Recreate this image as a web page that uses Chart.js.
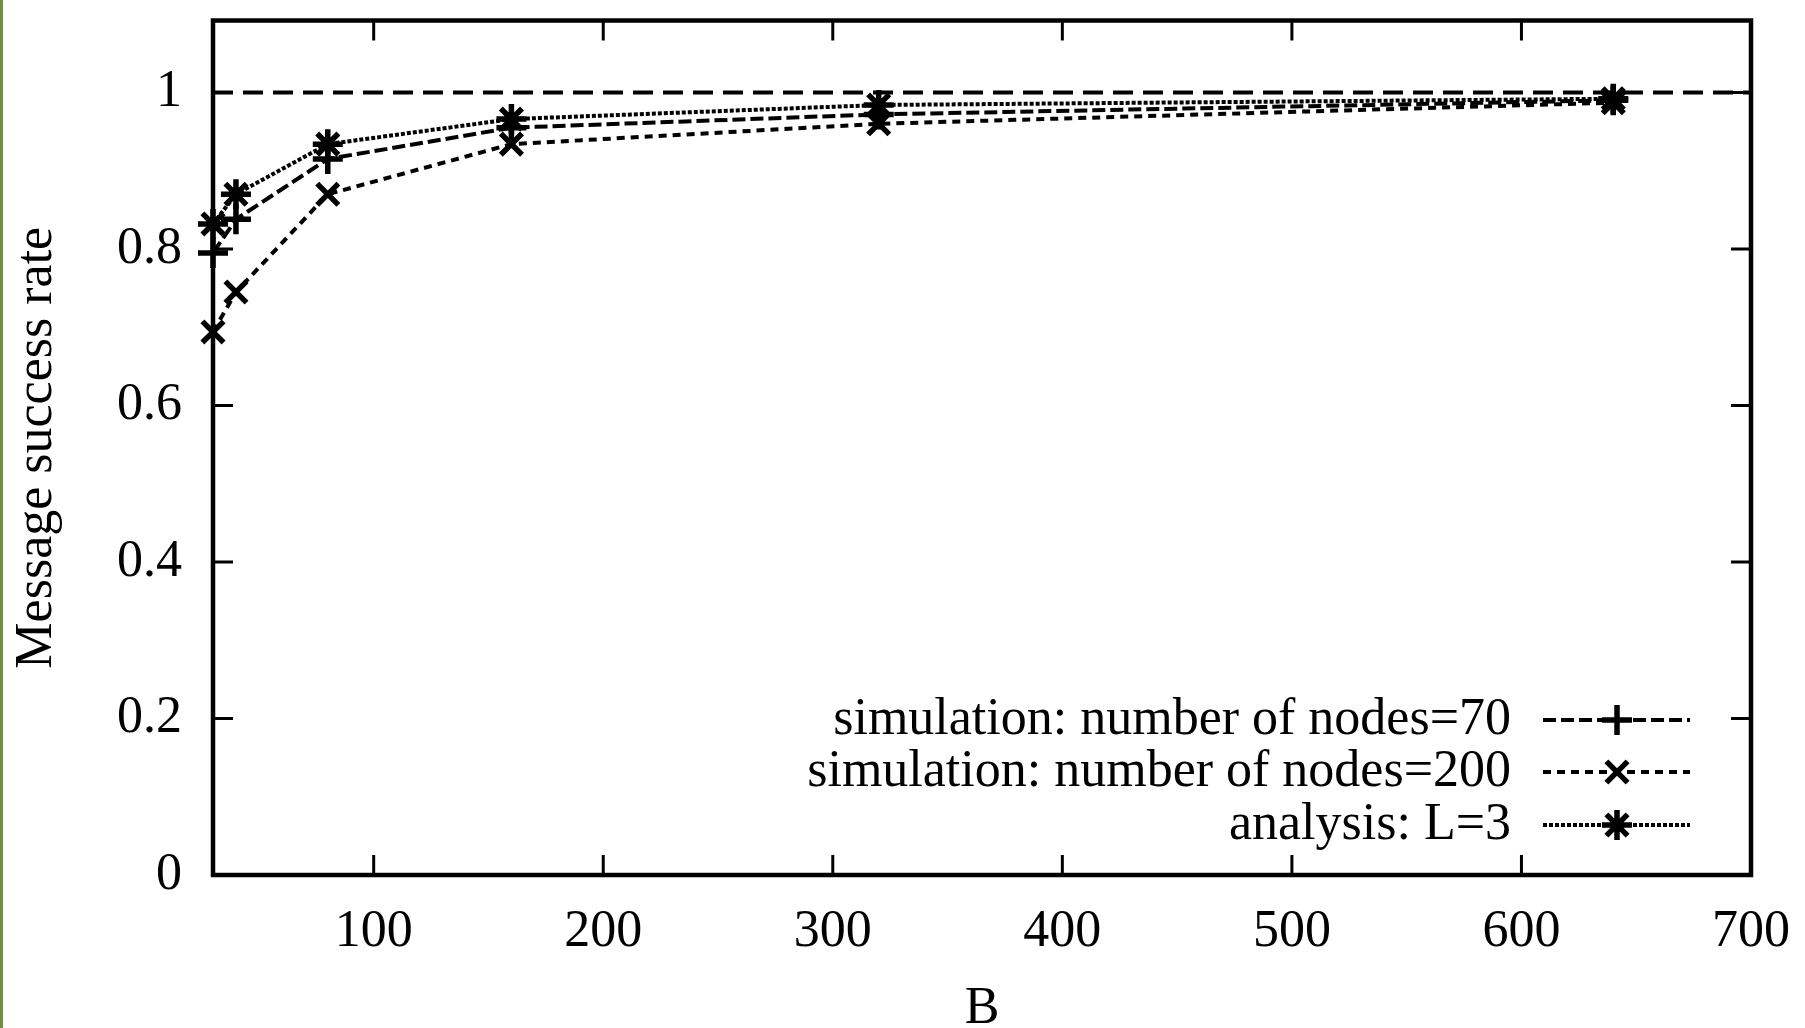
<!DOCTYPE html>
<html>
<head>
<meta charset="utf-8">
<script src="https://cdn.jsdelivr.net/npm/chart.js@4/dist/chart.umd.min.js"></script>
<style>
  html, body { margin: 0; padding: 0; background: #fff; overflow: hidden; }
  #wrap { position: relative; width: 1805px; height: 1028px; }
  #edge { position: absolute; left: 0; top: 0; width: 3px; height: 1028px; background: #6e8e44; }
  canvas { display: block; }
</style>
</head>
<body>
<div id="wrap">
  <canvas id="c" width="1805" height="1028"></canvas>
  <div id="edge"></div>
</div>
<script>
// ---- data ----
const bValues    = [30, 40, 80, 160, 320, 640];
const nodes70    = [0.795, 0.838, 0.915, 0.955, 0.972, 0.990];
const nodes200   = [0.694, 0.745, 0.870, 0.934, 0.960, 0.987];
const analysisL3 = [0.832, 0.870, 0.934, 0.966, 0.984, 0.992];
const referenceX = [30, 700];
const referenceY = [1, 1];
const xTicks = [100, 200, 300, 400, 500, 600, 700];
const yTicks = [0, 0.2, 0.4, 0.6, 0.8, 1];
const seriesLabels = [
  'simulation: number of nodes=70',
  'simulation: number of nodes=200',
  'analysis: L=3'
];

const FONT = 'Liberation Serif';
const toPts = (xs, ys) => xs.map((x, i) => ({ x: x, y: ys[i] }));

const seriesStyle = (label, data, dash, marker) => ({
  label: label,
  data: data,
  borderColor: '#000',
  backgroundColor: '#000',
  borderWidth: 4,
  borderDash: dash,
  pointStyle: marker,
  pointRadius: 15,
  pointHoverRadius: 15,
  pointBorderWidth: 5.5,
  pointBorderColor: '#000',
  pointBackgroundColor: '#000',
  fill: false,
  tension: 0,
  clip: false,
  isSeries: true
});

const datasets = [
  {
    label: 'y=1',
    data: toPts(referenceX, referenceY),
    borderColor: '#000',
    borderWidth: 4,
    borderDash: [20, 10],
    pointRadius: 0,
    fill: false,
    clip: false,
    isSeries: false
  },
  seriesStyle(seriesLabels[0], toPts(bValues, nodes70), [13, 5], 'cross'),
  seriesStyle(seriesLabels[1], toPts(bValues, nodes200), [8, 6], 'crossRot'),
  seriesStyle(seriesLabels[2], toPts(bValues, analysisL3), [4, 2], 'star')
];

const framePlugin = {
  id: 'frame',
  afterDatasetsDraw(chart) {
    const { ctx, chartArea, scales } = chart;
    const { left, right, top, bottom } = chartArea;
    ctx.save();
    ctx.strokeStyle = '#000';
    ctx.lineWidth = 3;
    ctx.setLineDash([]);
    const tl = 20;
    xTicks.forEach(v => {
      const px = scales.x.getPixelForValue(v);
      ctx.beginPath();
      ctx.moveTo(px, bottom); ctx.lineTo(px, bottom - tl);
      ctx.moveTo(px, top); ctx.lineTo(px, top + tl);
      ctx.stroke();
    });
    yTicks.forEach(v => {
      const py = scales.y.getPixelForValue(v);
      ctx.beginPath();
      ctx.moveTo(left, py); ctx.lineTo(left + tl, py);
      ctx.moveTo(right, py); ctx.lineTo(right - tl, py);
      ctx.stroke();
    });
    ctx.lineWidth = 4.5;
    ctx.strokeRect(left, top, right - left, bottom - top);

    // legend (inside plot, bottom right)
    const textRight = 1511, sampleL = 1543, sampleR = 1690, markX = 1617;
    const rows = [720, 772, 825];
    ctx.font = '52px "' + FONT + '"';
    ctx.textAlign = 'right';
    ctx.textBaseline = 'middle';
    ctx.fillStyle = '#000';
    let r = 0;
    chart.data.datasets.forEach(ds => {
      if (!ds.isSeries) return;
      const y = rows[r++];
      ctx.fillText(ds.label, textRight, y);
      ctx.save();
      ctx.lineWidth = ds.borderWidth;
      ctx.setLineDash(ds.borderDash);
      ctx.beginPath();
      ctx.moveTo(sampleL, y); ctx.lineTo(sampleR, y);
      ctx.stroke();
      ctx.restore();
      ctx.save();
      ctx.lineWidth = ds.pointBorderWidth;
      ctx.strokeStyle = '#000';
      Chart.helpers.drawPoint(ctx, { pointStyle: ds.pointStyle, radius: ds.pointRadius, borderWidth: ds.pointBorderWidth, rotation: 0 }, markX, y);
      ctx.restore();
    });
    ctx.restore();
  }
};

new Chart(document.getElementById('c'), {
  type: 'line',
  data: { datasets: datasets },
  options: {
    responsive: false,
    animation: false,
    devicePixelRatio: 1,
    layout: { padding: { top: 6, right: 54, bottom: 0, left: 0 } },
    plugins: { legend: { display: false }, tooltip: { enabled: false } },
    scales: {
      x: {
        type: 'linear',
        min: 30,
        max: 700,
        grid: { display: false, drawTicks: false },
        border: { display: false },
        afterBuildTicks: s => { s.ticks = xTicks.map(v => ({ value: v })); },
        afterFit: s => { s.height = 153; s.paddingLeft = 0; s.paddingRight = 0; },
        ticks: { color: '#000', padding: 26, font: { family: FONT, size: 52 } },
        title: {
          display: true, text: 'B', color: '#000',
          font: { family: FONT, size: 52, lineHeight: 0.7 },
          padding: 0
        }
      },
      y: {
        type: 'linear',
        min: 0,
        max: 1.092,
        grid: { display: false, drawTicks: false },
        border: { display: false },
        afterBuildTicks: s => { s.ticks = yTicks.map(v => ({ value: v })); },
        afterFit: s => { s.width = 213; s.paddingTop = 0; s.paddingBottom = 0; },
        ticks: {
          color: '#000', padding: 31, font: { family: FONT, size: 52 },
          callback: v => String(v)
        },
        title: {
          display: true, text: 'Message success rate', color: '#000',
          font: { family: FONT, size: 52, lineHeight: 1.2 },
          padding: { top: 6, bottom: 0 }
        }
      }
    }
  },
  plugins: [framePlugin]
});
</script>
</body>
</html>
